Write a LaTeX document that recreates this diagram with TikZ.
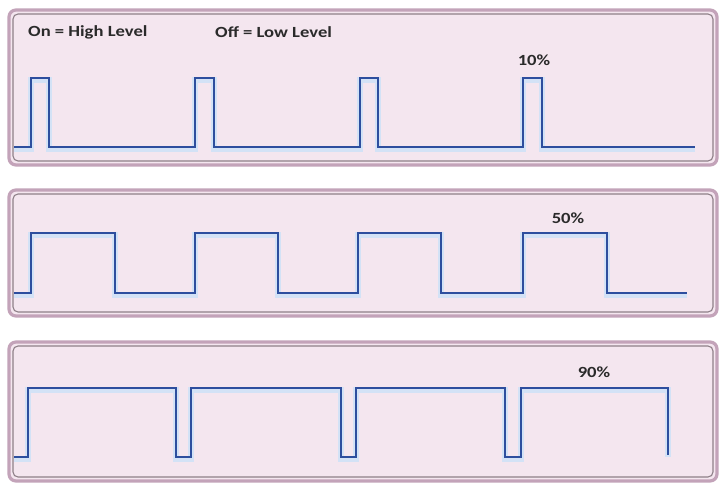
\documentclass[tikz,border=0pt]{standalone}
\usepackage{fontspec}
\setmainfont{Carlito}
\newfontfamily\lblfont{Carlito}[FakeStretch=1.2]
\definecolor{panelfill}{HTML}{F4E6EF}
\definecolor{bordout}{HTML}{C3A3B9}
\definecolor{bordin}{HTML}{8E8088}
\definecolor{wave}{HTML}{2D4E9E}
\definecolor{glow}{HTML}{D3E2F6}
\definecolor{txt}{HTML}{2A2A2A}
\tikzset{
  panel/.style={fill=panelfill, draw=bordout, line width=3.2pt, rounded corners=7pt},
  panelin/.style={draw=bordin, line width=1.1pt, rounded corners=5pt},
  wv/.style={draw=wave, line width=2.4pt, line join=miter},
  wvglow/.style={draw=glow, line width=6pt, line join=miter},
  lbl/.style={font=\lblfont\bfseries\fontsize{15.5}{18}\selectfont, text=txt, inner sep=0pt, anchor=west}
}
\begin{document}
\begin{tikzpicture}[x=1pt,y=-1pt]
\useasboundingbox (0,0) rectangle (721,484);
\fill[white] (0,0) rectangle (721,484);
% panels
\draw[panel] (9,10) rectangle (717,165);
\draw[panelin] (13,14) rectangle (713,161);
\draw[panel] (9,190) rectangle (717,316);
\draw[panelin] (13,194) rectangle (713,312);
\draw[panel] (9,342) rectangle (717,481);
\draw[panelin] (13,346) rectangle (713,477);
% wave 1 (10%)
\def\waveA{(14,147) -- (31,147) -- (31,78) -- (49,78) -- (49,147) -- (195,147) -- (195,78) -- (214,78) -- (214,147) -- (360,147) -- (360,78) -- (378,78) -- (378,147) -- (523,147) -- (523,78) -- (542,78) -- (542,147) -- (695,147)}
\draw[wvglow,yshift=-2pt] \waveA;
\draw[wv] \waveA;
% wave 2 (50%)
\def\waveB{(14,293) -- (31,293) -- (31,233) -- (115,233) -- (115,293) -- (195,293) -- (195,233) -- (278,233) -- (278,293) -- (358,293) -- (358,233) -- (441,233) -- (441,293) -- (523,293) -- (523,233) -- (607,233) -- (607,293) -- (687,293)}
\draw[wvglow,yshift=-2pt] \waveB;
\draw[wv] \waveB;
% wave 3 (90%)
\def\waveC{(14,457) -- (28,457) -- (28,388) -- (176,388) -- (176,457) -- (191,457) -- (191,388) -- (341,388) -- (341,457) -- (356,457) -- (356,388) -- (505,388) -- (505,457) -- (521,457) -- (521,388) -- (668,388) -- (668,455)}
\draw[wvglow,yshift=-2pt] \waveC;
\draw[wv] \waveC;
% labels
\node[lbl] (on) at (28,32) {On = High Level};
\node[lbl] (off) at (215,32) {Off = Low Level};
\node[lbl, anchor=center] (p10) at (534,60) {10\%};
\node[lbl, anchor=center] (p50) at (568,218) {50\%};
\node[lbl, anchor=center] (p90) at (594,372) {90\%};
\end{tikzpicture}
\end{document}
